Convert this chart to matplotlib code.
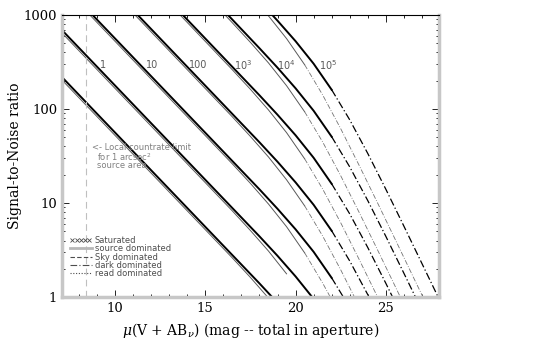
import matplotlib
matplotlib.use('Agg')
import matplotlib.pyplot as plt
import numpy as np
from matplotlib.lines import Line2D
from matplotlib.legend_handler import HandlerLine2D
from matplotlib.ticker import MultipleLocator, FuncFormatter

# exposure times (s) of the curves, short to long
exposures = [0.1, 1, 10, 100, 1e3, 1e4, 1e5]

# thick curves: magnitude and S/N
mag_thick = [
    [7.07, 18.0, 18.93],
    [7.07, 18.0, 19.0, 20.0, 21.0, 21.11],
    [8.55, 18.0, 19.0, 20.0, 21.0, 22.0, 22.79],
    [11.05, 18.0, 19.0, 20.0, 21.0, 22.0, 23.0, 24.0, 24.19],
    [13.55, 18.0, 19.0, 20.0, 21.0, 22.0, 23.0, 24.0, 25.0, 25.49],
    [16.05, 18.0, 19.0, 20.0, 21.0, 22.0, 23.0, 24.0, 25.0, 26.0, 26.76],
    [18.51, 19.0, 20.0, 21.0, 22.0, 23.0, 24.0, 25.0, 26.0, 27.0, 28.01],
]
snr_thick = [
    [218, 1.4, 0.899],
    [689, 4.43, 2.75, 1.66, 0.958, 0.897],
    [1100, 14, 8.69, 5.26, 3.03, 1.6, 0.902],
    [1100, 44.3, 27.5, 16.6, 9.58, 5.07, 2.42, 1.06, 0.901],
    [1100, 140, 86.9, 52.6, 30.3, 16, 7.66, 3.36, 1.4, 0.9],
    [1100, 443, 275, 166, 95.8, 50.7, 24.2, 10.6, 4.42, 1.79, 0.896],
    [1100, 869, 526, 303, 160, 76.6, 33.6, 14, 5.67, 2.27, 0.9],
]

# thin curves
mag_thin = [
    [7.07, 16.5, 17.5, 18.5, 18.66],
    [7.07, 16.5, 17.5, 18.5, 19.5, 20.56],
    [8.40, 16.5, 17.5, 18.5, 19.5, 20.5, 21.5, 22.05],
    [10.90, 16.5, 17.5, 18.5, 19.5, 20.5, 21.5, 22.5, 23.38],
    [13.40, 16.5, 17.5, 18.5, 19.5, 20.5, 21.5, 22.5, 23.5, 24.5, 24.66],
    [15.89, 16.5, 17.5, 18.5, 19.5, 20.5, 21.5, 22.5, 23.5, 24.5, 25.5, 25.92],
    [18.27, 18.5, 19.5, 20.5, 21.5, 22.5, 23.5, 24.5, 25.5, 26.5, 27.17],
]
snr_thin = [
    [203, 2.61, 1.62, 0.977, 0.898],
    [642, 8.25, 5.11, 3.09, 1.77, 0.898],
    [1100, 26.1, 16.2, 9.77, 5.61, 2.96, 1.41, 0.902],
    [1100, 82.5, 51.1, 30.9, 17.7, 9.36, 4.46, 1.95, 0.902],
    [1100, 261, 162, 97.7, 56.1, 29.6, 14.1, 6.17, 2.56, 1.04, 0.898],
    [1100, 825, 511, 309, 177, 93.6, 44.6, 19.5, 8.1, 3.29, 1.32, 0.896],
    [1100, 977, 561, 296, 141, 61.7, 25.6, 10.4, 4.17, 1.66, 0.899],
]

# magnitude where dark noise takes over (solid -> dash-dot)
switch_thick = 22.0
switch_thin = 20.5

curve_labels = ['1', '10', '100', '10$^\\mathsf{3}$', '10$^\\mathsf{4}$', '10$^\\mathsf{5}$']
legend_labels = ['Saturated', 'source dominated', 'Sky dominated', 'dark dominated', 'read dominated']

plt.rcParams['mathtext.fontset'] = 'custom'
plt.rcParams['mathtext.rm'] = 'DejaVu Serif'
plt.rcParams['mathtext.it'] = 'DejaVu Serif:italic'
plt.rcParams['mathtext.sf'] = 'DejaVu Sans'

dashdot = (0, (6, 2, 1, 2))

fig, ax = plt.subplots(figsize=(5.59, 3.4), dpi=100)
fig.subplots_adjust(left=0.111, right=0.785, bottom=0.126, top=0.956)


def draw(mags, snrs, msw, solid_kw, dd_kw):
    m = np.array(mags)
    s = np.array(snrs)
    a = m <= msw + 1e-6
    b = m >= msw - 1e-6
    ax.plot(m[a], s[a], **solid_kw)
    if b.sum() > 1:
        ax.plot(m[b], s[b], ls=dashdot, **dd_kw)


for m, s in zip(mag_thin, snr_thin):
    draw(m, s, switch_thin, dict(color='0.35', lw=0.7), dict(color='0.45', lw=0.6))
for m, s in zip(mag_thick, snr_thick):
    draw(m, s, switch_thick, dict(color='k', lw=1.4), dict(color='k', lw=0.9))

ax.set_yscale('log')
ax.set_xlim(7.07, 27.93)
ax.set_ylim(1, 1000)

for side in ['left', 'bottom', 'right']:
    ax.spines[side].set_color('0.78')
    ax.spines[side].set_linewidth(2.5)
ax.spines['top'].set_linewidth(0.8)
ax.xaxis.set_major_locator(MultipleLocator(5))
ax.xaxis.set_minor_locator(MultipleLocator(1))
ax.yaxis.set_major_formatter(FuncFormatter(lambda v, p: f'{v:g}'))
ax.tick_params(which='both', direction='in', top=True, right=True, width=0.6, color='k')
ax.tick_params(which='major', length=5, labelsize=9.5)
ax.tick_params(which='minor', length=2.5)
for lab in ax.get_xticklabels() + ax.get_yticklabels():
    lab.set_fontfamily('DejaVu Serif')
ax.set_ylabel('Signal-to-Noise ratio', family='DejaVu Serif', fontsize=10, labelpad=1)
ax.set_xlabel(r'$\mu$(V + AB$_\nu$) (mag -- total in aperture)', family='DejaVu Serif', fontsize=10)

# local countrate limit
ax.axvline(8.4, color='0.75', lw=0.8, dashes=(6, 4))
ax.text(8.73, 39, '<- Local countrate limit', fontsize=6, color='0.5', va='center')
ax.text(9.0, 31, 'for 1 arcsec$^\\mathsf{2}$', fontsize=6, color='0.5', va='center')
ax.text(9.0, 24.8, 'source area', fontsize=6, color='0.5', va='center')

# exposure time labels next to the curves
lab_x = [9.17, 11.72, 14.1, 16.59, 18.97, 21.29]
for x, tx in zip(lab_x, curve_labels):
    ax.text(x, 294, tx, fontsize=7, color='0.35', va='center', ha='left')

hs = [Line2D([], [], ls='none', marker='x', ms=2.5, mew=0.6, color='0.3'),
      Line2D([], [], color='0.72', lw=2),
      Line2D([], [], color='0.3', lw=0.8, ls=(0, (4, 2))),
      Line2D([], [], color='0.3', lw=0.8, ls=dashdot),
      Line2D([], [], color='0.3', lw=0.8, ls=(0, (1, 1.5)))]
ax.legend(hs, legend_labels, loc='upper left', bbox_to_anchor=(0.021, 0.216), frameon=False,
          fontsize=6, labelcolor='0.3', handlelength=2.6, handletextpad=0.35,
          labelspacing=-0.1, borderpad=0, borderaxespad=0,
          handler_map={hs[0]: HandlerLine2D(numpoints=5)})

fig.savefig('out.png')
